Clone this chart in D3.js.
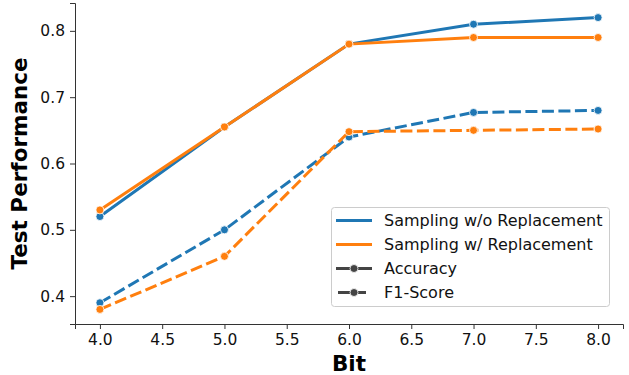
<!DOCTYPE html>
<html>
<head>
<meta charset="utf-8">
<script src="https://cdn.jsdelivr.net/npm/d3@7"></script>
<style>
  body { margin: 0; background: #fff; }
  text { font-family: "DejaVu Sans", sans-serif; }
</style>
</head>
<body>
<div id="chart"></div>
<script>
// data
const bits = [4, 5, 6, 7, 8];
const xTicks = [4.0, 4.5, 5.0, 5.5, 6.0, 6.5, 7.0, 7.5, 8.0];
const yTicks = [0.4, 0.5, 0.6, 0.7, 0.8];
const accNoRepl = [0.52, 0.655, 0.78, 0.81, 0.82];
const accRepl = [0.53, 0.655, 0.78, 0.79, 0.79];
const f1NoRepl = [0.39, 0.50, 0.64, 0.677, 0.68];
const f1Repl = [0.38, 0.46, 0.648, 0.65, 0.652];

const blue = '#1f77b4', orange = '#ff7f0e';
const series = [
  { values: accNoRepl, color: blue, dashed: false },
  { values: accRepl, color: orange, dashed: false },
  { values: f1NoRepl, color: blue, dashed: true },
  { values: f1Repl, color: orange, dashed: true }
];

const W = 629, H = 375;
const margin = { top: 3, right: 6, bottom: 51, left: 75 };

const svg = d3.select('#chart').append('svg')
  .attr('width', W).attr('height', H);

const x = d3.scaleLinear().domain([3.8, 8.2]).range([margin.left, W - margin.right]);
const y = d3.scaleLinear().domain([0.358, 0.842]).range([H - margin.bottom, margin.top]);

// axes
const xAxis = svg.append('g')
  .attr('transform', `translate(0,${H - margin.bottom})`)
  .call(d3.axisBottom(x).tickValues(xTicks).tickFormat(d3.format('.1f')).tickSizeOuter(0).tickSize(5).tickPadding(5));
const yAxis = svg.append('g')
  .attr('transform', `translate(${margin.left},0)`)
  .call(d3.axisLeft(y).tickValues(yTicks).tickFormat(d3.format('.1f')).tickSizeOuter(0).tickSize(5).tickPadding(5));
[xAxis, yAxis].forEach(a => {
  a.selectAll('text').attr('font-size', '15.5px').attr('fill', '#111');
  a.selectAll('line, path').attr('stroke', '#333').attr('stroke-width', 1);
});

svg.append('text')
  .attr('x', (margin.left + W - margin.right) / 2).attr('y', 371)
  .attr('text-anchor', 'middle').attr('font-size', '21.5px').attr('font-weight', 'bold')
  .text('Bit');
svg.append('text')
  .attr('transform', `translate(27,${(margin.top + H - margin.bottom) / 2}) rotate(-90)`)
  .attr('text-anchor', 'middle').attr('font-size', '21.5px').attr('font-weight', 'bold')
  .text('Test Performance');

const line = d3.line().x((d, i) => x(bits[i])).y(d => y(d));

series.forEach(s => {
  svg.append('path')
    .datum(s.values)
    .attr('d', line)
    .attr('fill', 'none')
    .attr('stroke', s.color)
    .attr('stroke-width', 3)
    .attr('stroke-dasharray', s.dashed ? '12,4.5' : null);
  svg.selectAll(null)
    .data(s.values)
    .enter()
    .append('circle')
    .attr('cx', (d, i) => x(bits[i]))
    .attr('cy', d => y(d))
    .attr('r', 4)
    .attr('fill', s.color)
    .attr('stroke', '#fff')
    .attr('stroke-width', 0.8);
});

// legend
const legend = svg.append('g');
legend.append('rect')
  .attr('x', 331.5).attr('y', 207.5).attr('width', 278).attr('height', 99)
  .attr('rx', 3).attr('fill', '#fff').attr('fill-opacity', 0.8)
  .attr('stroke', '#ccc');
const legendItems = [
  { label: 'Sampling w/o Replacement', color: blue, dashed: false, marker: false },
  { label: 'Sampling w/ Replacement', color: orange, dashed: false, marker: false },
  { label: 'Accuracy', color: '#444', dashed: false, marker: true },
  { label: 'F1-Score', color: '#444', dashed: true, marker: true }
];
legendItems.forEach((it, i) => {
  const ly = 220.5 + i * 24;
  legend.append('line')
    .attr('x1', it.dashed ? 338 : 336).attr('x2', it.dashed ? 370 : 372)
    .attr('y1', ly).attr('y2', ly)
    .attr('stroke', it.color).attr('stroke-width', 3)
    .attr('stroke-dasharray', it.dashed ? '12,4' : null);
  if (it.marker) {
    legend.append('circle')
      .attr('cx', 354).attr('cy', ly).attr('r', 4)
      .attr('fill', it.color).attr('stroke', '#fff').attr('stroke-width', 0.8);
  }
  legend.append('text')
    .attr('x', 384).attr('y', ly).attr('dy', '0.35em')
    .attr('font-size', '16px').attr('fill', '#111')
    .text(it.label);
});
</script>
</body>
</html>
